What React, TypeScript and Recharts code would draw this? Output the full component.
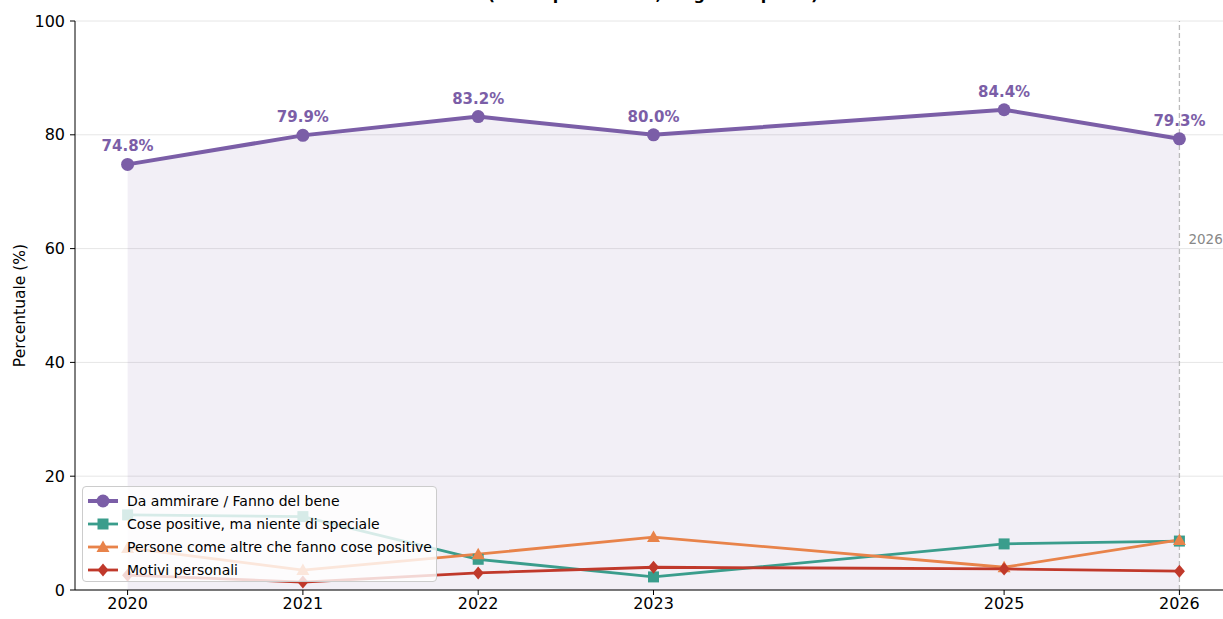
import React from 'react';
import {
    ComposedChart,
    Line,
    Area,
    XAxis,
    YAxis,
    CartesianGrid,
    ReferenceLine,
    LabelList
} from 'recharts';

const years = [2020, 2021, 2022, 2023, 2025, 2026];
const ammirare = [74.8, 79.9, 83.2, 80.0, 84.4, 79.3];
const cosePositive = [13.2, 12.9, 5.4, 2.3, 8.1, 8.6];
const personeComeAltre = [7.4, 3.5, 6.3, 9.3, 4.0, 8.8];
const motiviPersonali = [2.6, 1.4, 3.0, 4.0, 3.7, 3.3];
const yTicks = [0, 20, 40, 60, 80, 100];
const lastYearLabelY = 61.5;

const FONT = '"DejaVu Sans", sans-serif';

const series = [
    { key: 'ammirare', name: 'Da ammirare / Fanno del bene', color: '#7b5ea7', marker: 'circle' },
    { key: 'cosePositive', name: 'Cose positive, ma niente di speciale', color: '#3a9d8c', marker: 'square' },
    { key: 'personeComeAltre', name: 'Persone come altre che fanno cose positive', color: '#e8834a', marker: 'triangle' },
    { key: 'motiviPersonali', name: 'Motivi personali', color: '#c0392b', marker: 'diamond' },
];

const data = years.map((year, i) => ({
    year,
    ammirare: ammirare[i],
    cosePositive: cosePositive[i],
    personeComeAltre: personeComeAltre[i],
    motiviPersonali: motiviPersonali[i],
}));

// draws one marker shape centred on cx, cy
const markerShape = (kind: string, cx: number, cy: number, color: string, key?: any) => {
    if (kind === 'circle') return <circle key={key} cx={cx} cy={cy} r={6.5} fill={color} />;
    if (kind === 'square') return <rect key={key} x={cx - 5.5} y={cy - 5.5} width={11} height={11} fill={color} />;
    if (kind === 'triangle')
        return <polygon key={key} points={`${cx},${cy - 6.5} ${cx - 6.5},${cy + 5} ${cx + 6.5},${cy + 5}`} fill={color} />;
    return <polygon key={key} points={`${cx},${cy - 6.5} ${cx + 5.5},${cy} ${cx},${cy + 6.5} ${cx - 5.5},${cy}`} fill={color} />;
};

const makeDot = (kind: string, color: string) => (props: any) => {
    const { cx, cy, index } = props;
    if (cx == null || cy == null) return <g key={index} />;
    return markerShape(kind, cx, cy, color, index);
};

const LegendBox = () => (
    <div style={{
        position: 'absolute',
        left: 82,
        top: 486,
        width: 355,
        height: 96,
        background: 'rgba(255,255,255,0.8)',
        border: '1px solid #cccccc',
        borderRadius: 4,
        fontFamily: FONT,
        fontSize: 14,
        color: '#000',
        boxSizing: 'border-box',
        paddingTop: 2,
    }}>
        {series.map((s) => (
            <div key={s.key} style={{ height: 23, display: 'flex', alignItems: 'center' }}>
                <svg width={39} height={16} style={{ marginLeft: 5, flexShrink: 0 }}>
                    <line x1={0} y1={8} x2={30} y2={8} stroke={s.color} strokeWidth={s.key === 'ammirare' ? 4 : 2.8} />
                    {markerShape(s.marker, 15, 8, s.color)}
                </svg>
                <span style={{ whiteSpace: 'nowrap' }}>{s.name}</span>
            </div>
        ))}
    </div>
);

const LastYearLabel = (props: any) => {
    const { viewBox } = props;
    if (!viewBox) return null;
    const y = viewBox.y + viewBox.height * (1 - lastYearLabelY / 100);
    return (
        <text x={viewBox.x + 9} y={y} fill="#888888" fontSize={13.5} fontFamily={FONT} dominantBaseline="middle">
            2026
        </text>
    );
};

export default function App() {
    return (
        <div style={{ position: 'fixed', left: 0, top: 0, width: 1223, height: 619, overflow: 'hidden', background: '#fff' }}>
            <div style={{
                position: 'absolute',
                top: -13,
                left: 0,
                width: 1306,
                textAlign: 'center',
                fontFamily: FONT,
                fontWeight: 'bold',
                fontSize: 16,
                lineHeight: 1,
                whiteSpace: 'nowrap',
            }}>
                (Valori percentuali, singola risposta)
            </div>
            <ComposedChart
                width={1240}
                height={619}
                data={data}
                margin={{ top: 21, right: 8, left: 0, bottom: 0 }}
                style={{ fontFamily: FONT }}
            >
                <CartesianGrid vertical={false} stroke="#e6e6e6" />
                <XAxis
                    dataKey="year"
                    type="number"
                    domain={[2019.7, 2026.3]}
                    ticks={years}
                    allowDataOverflow
                    height={29}
                    tickSize={5}
                    tickMargin={3}
                    stroke="#000"
                    tick={{ fontSize: 16, fill: '#000', fontFamily: FONT }}
                    tickFormatter={(v: any) => String(v)}
                />
                <YAxis
                    domain={[0, 100]}
                    ticks={yTicks}
                    width={75}
                    tickSize={5}
                    tickMargin={5}
                    stroke="#000"
                    tick={{ fontSize: 16, fill: '#000', fontFamily: FONT }}
                    label={{
                        value: 'Percentuale (%)',
                        angle: -90,
                        position: 'insideLeft',
                        offset: 19,
                        textAnchor: 'middle',
                        style: { fontSize: 15.5, fill: '#000', fontFamily: FONT, textAnchor: 'middle' },
                    }}
                />
                <Area
                    dataKey="ammirare"
                    type="linear"
                    stroke="none"
                    fill="#7b5ea7"
                    fillOpacity={0.1}
                    baseValue={0}
                    isAnimationActive={false}
                    legendType="none"
                />
                <ReferenceLine x={2026} stroke="#bbbbbb" strokeDasharray="5 3" strokeWidth={1.3} label={<LastYearLabel />} />
                {series.map((s) => (
                    <Line
                        key={s.key}
                        dataKey={s.key}
                        name={s.name}
                        type="linear"
                        stroke={s.color}
                        strokeWidth={s.key === 'ammirare' ? 4 : 2.8}
                        dot={makeDot(s.marker, s.color)}
                        activeDot={false}
                        isAnimationActive={false}
                    >
                        {s.key === 'ammirare' && (
                            <LabelList
                                dataKey="ammirare"
                                position="top"
                                offset={13}
                                formatter={(v: any) => `${Number(v).toFixed(1)}%`}
                                fill="#7b5ea7"
                                fontWeight="bold"
                                fontSize={15}
                                fontFamily={FONT}
                            />
                        )}
                    </Line>
                ))}
            </ComposedChart>
            <LegendBox />
        </div>
    );
}
